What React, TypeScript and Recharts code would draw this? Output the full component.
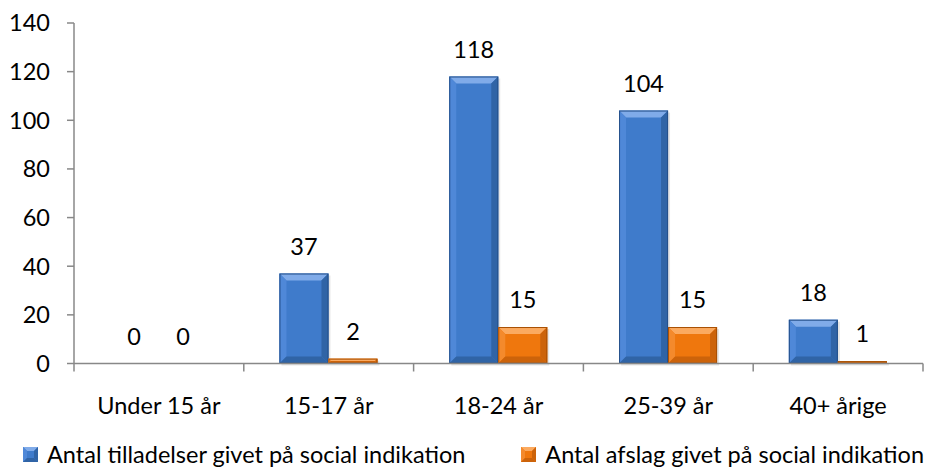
import React from 'react';
import { BarChart, Bar, XAxis, YAxis, Legend, LabelList } from 'recharts';

const categories = ['Under 15 år', '15-17 år', '18-24 år', '25-39 år', '40+ årige'];
const tilladelser = [0, 37, 118, 104, 18];
const afslag = [0, 2, 15, 15, 1];
const yTicks = [0, 20, 40, 60, 80, 100, 120, 140];
const seriesNames = ['Antal tilladelser givet på social indikation', 'Antal afslag givet på social indikation'];

const data = categories.map((c, i) => ({ name: c, a: tilladelser[i], b: afslag[i] }));

const FONT = 'Lato, "Open Sans", sans-serif';
const FS = 23.5;

const palettes: Record<string, { base: string; light: string; top: string; dark: string; edge: string }> = {
  blue: { base: '#3f7bcb', light: '#4f88d8', top: '#80abe9', dark: '#3064a6', edge: '#24508a' },
  orange: { base: '#ef770d', light: '#f48a2c', top: '#fbaa60', dark: '#cc630a', edge: '#a85004' },
};

const BevelBar = (pal: typeof palettes.blue) => (props: any) => {
  const { x, y, width: w, height: h } = props;
  if (!h || h <= 0 || !w) return null;
  const b = Math.max(0, Math.min(7, h / 2, w / 2));
  return (
    <g>
      <rect x={x + 2} y={y + 2} width={w} height={h} fill="#000" fillOpacity={0.1} />
      <rect x={x} y={y} width={w} height={h} fill={pal.base} />
      <polygon points={`${x},${y} ${x + w},${y} ${x + w - b},${y + b} ${x + b},${y + b}`} fill={pal.top} />
      <polygon points={`${x},${y} ${x + b},${y + b} ${x + b},${y + h - b} ${x},${y + h}`} fill={pal.light} />
      <polygon points={`${x + w},${y} ${x + w},${y + h} ${x + w - b},${y + h - b} ${x + w - b},${y + b}`} fill={pal.dark} />
      <polygon points={`${x},${y + h} ${x + w},${y + h} ${x + w - b},${y + h - b} ${x + b},${y + h - b}`} fill={pal.dark} />
      <rect x={x + 0.5} y={y + 0.5} width={Math.max(0, w - 1)} height={Math.max(0, h - 1)} fill="none" stroke={pal.edge} strokeWidth={1} />
    </g>
  );
};

const XTick = (props: any) => {
  const { x, y, payload, index, visibleTicksCount } = props;
  const off = payload?.offset ?? 0;
  const axisY = y - 8 - 26;
  return (
    <g>
      <line x1={x - off} y1={axisY} x2={x - off} y2={axisY + 8} stroke="#888" strokeWidth={1.5} />
      {index === (visibleTicksCount ?? 5) - 1 && (
        <line x1={x + off} y1={axisY} x2={x + off} y2={axisY + 8} stroke="#888" strokeWidth={1.5} />
      )}
      <text x={x} y={y + 16} textAnchor="middle" fontFamily={FONT} fontSize={FS} fill="#000">
        {payload.value}
      </text>
    </g>
  );
};

const LegendIcon = ({ pal }: { pal: typeof palettes.blue }) => (
  <svg width={15} height={15} style={{ display: 'block' }}>
    <rect x={0} y={0} width={15} height={15} fill={pal.base} />
    <polygon points="0,0 15,0 11,4 4,4" fill={pal.top} />
    <polygon points="0,0 4,4 4,11 0,15" fill={pal.light} />
    <polygon points="15,0 15,15 11,11 11,4" fill={pal.dark} />
    <polygon points="0,15 15,15 11,11 4,11" fill={pal.dark} />
  </svg>
);

const LegendContent = () => (
  <div
    style={{
      display: 'flex',
      justifyContent: 'space-between',
      width: 940,
      boxSizing: 'border-box',
      paddingLeft: 23,
      paddingRight: 16,
      fontFamily: FONT,
      fontSize: FS,
      lineHeight: '22px',
      color: '#000',
    }}
  >
    {[palettes.blue, palettes.orange].map((p, i) => (
      <div key={i} style={{ display: 'flex', alignItems: 'center', gap: 9 }}>
        <LegendIcon pal={p} />
        <span>{seriesNames[i]}</span>
      </div>
    ))}
  </div>
);

export default function App() {
  return (
    <div style={{ position: 'absolute', left: 0, top: 0, width: 940, height: 468, background: '#fff' }}>
      <BarChart
        width={940}
        height={468}
        data={data}
        margin={{ top: 23, right: 17, left: 0, bottom: 0 }}
        barGap={0}
        barCategoryGap="21%"
      >
        <XAxis
          dataKey="name"
          height={104.5}
          tickSize={8}
          tickMargin={26}
          tickLine={false}
          axisLine={{ stroke: '#888', strokeWidth: 1.5 }}
          tick={<XTick />}
          interval={0}
        />
        <YAxis
          width={74}
          domain={[0, 140]}
          ticks={yTicks}
          tickSize={7}
          tickMargin={17}
          axisLine={{ stroke: '#888', strokeWidth: 1.5 }}
          tickLine={{ stroke: '#888', strokeWidth: 1.5 }}
          tick={{ fontFamily: FONT, fontSize: FS, fill: '#000' }}
        />
        <Legend
          verticalAlign="middle"
          layout="horizontal"
          content={<LegendContent />}
          wrapperStyle={{ position: 'absolute', top: 443, left: 0, width: 940, margin: 0 }}
        />
        <Bar dataKey="a" name={seriesNames[0]} fill={palettes.blue.base} shape={BevelBar(palettes.blue)} isAnimationActive={false}>
          <LabelList dataKey="a" position="top" offset={19} style={{ fontFamily: FONT, fontSize: FS, fill: '#000' }} />
        </Bar>
        <Bar dataKey="b" name={seriesNames[1]} fill={palettes.orange.base} shape={BevelBar(palettes.orange)} isAnimationActive={false}>
          <LabelList dataKey="b" position="top" offset={19} style={{ fontFamily: FONT, fontSize: FS, fill: '#000' }} />
        </Bar>
      </BarChart>
    </div>
  );
}
